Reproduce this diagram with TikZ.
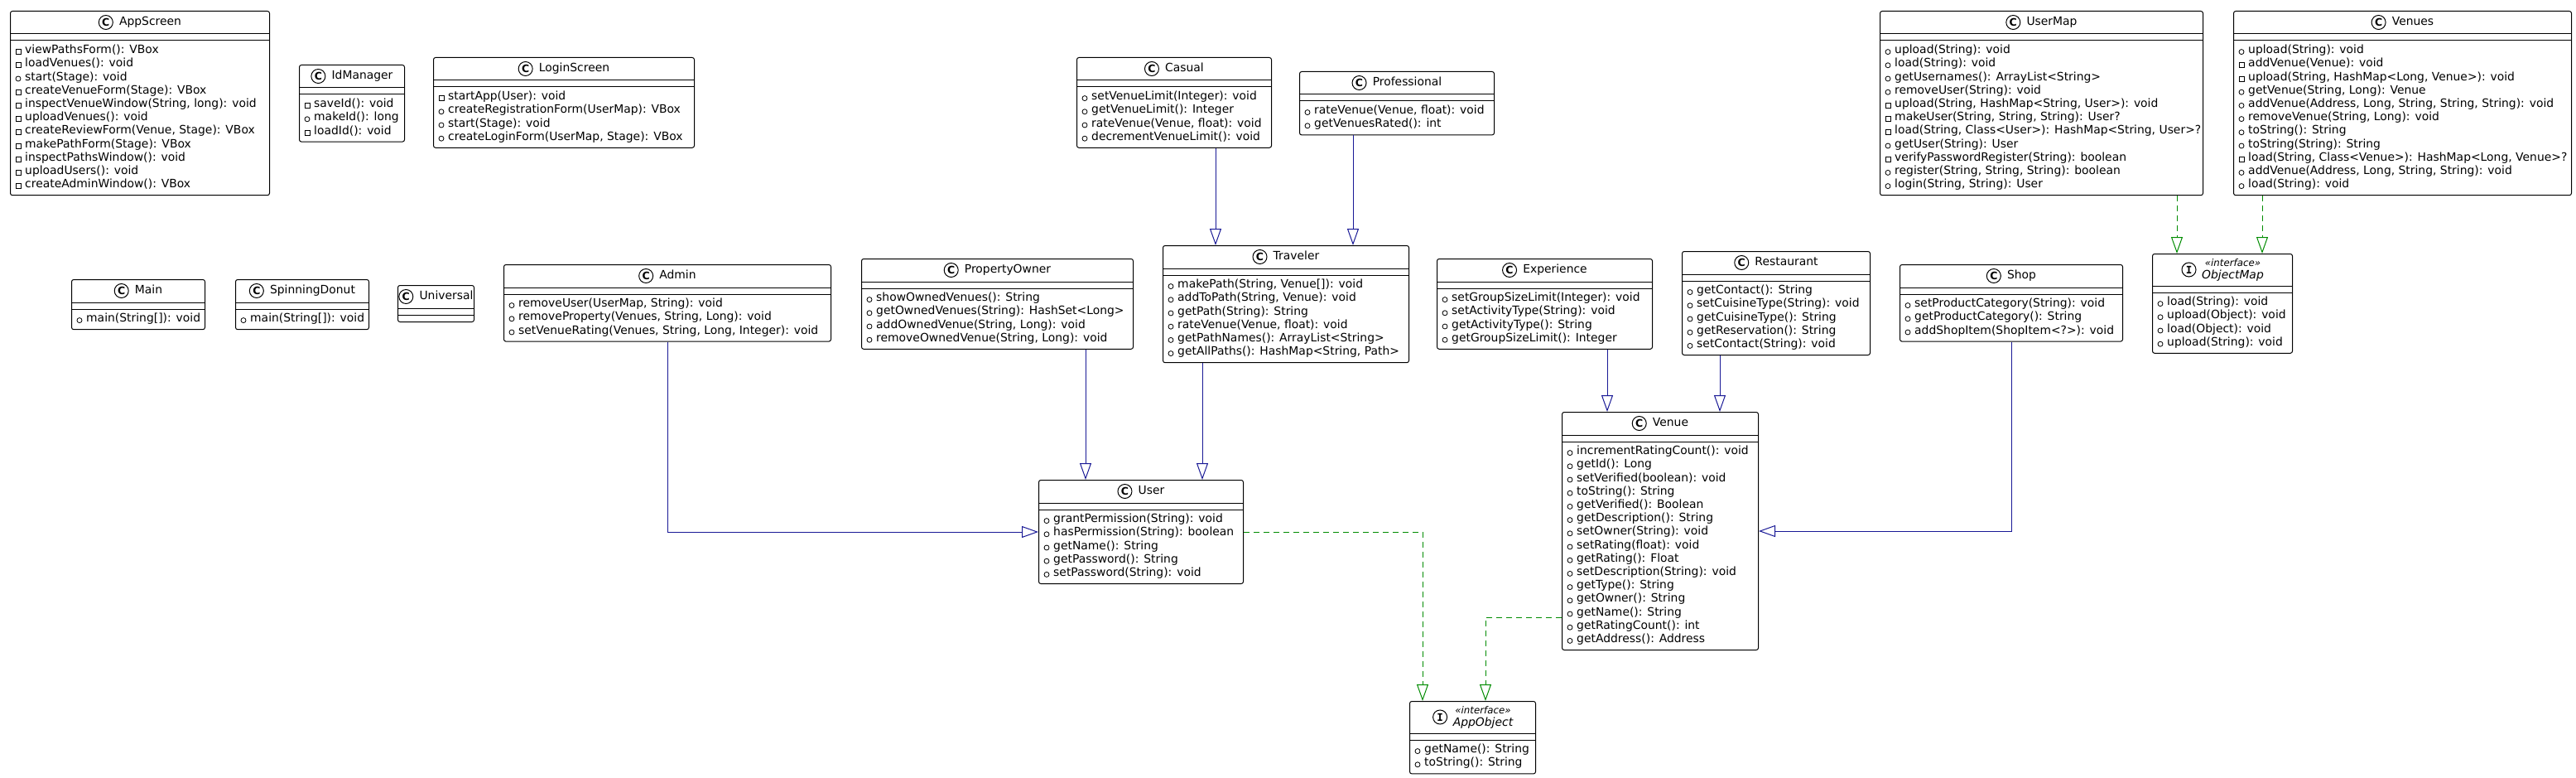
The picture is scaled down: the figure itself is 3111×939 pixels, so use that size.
\documentclass[tikz,border=0pt]{standalone}
\usepackage{fontspec}
\setmainfont{DejaVu Sans}
\newfontfamily\monofnt{DejaVu Sans Mono}
\usetikzlibrary{arrows.meta,positioning,calc}
\definecolor{inhcol}{RGB}{25,25,150}
\definecolor{implcol}{RGB}{0,140,0}
\tikzset{
  umlbox/.style={draw, line width=1pt, rounded corners=2.5pt, fill=white, inner sep=0pt, anchor=north west},
  sepline/.style={line width=1pt},
  ttl/.style={inner sep=0pt, font=\fontsize{13.9}{16}\selectfont, text height=10.3pt, text depth=3pt},
  ittl/.style={inner sep=0pt, font=\fontsize{13.9}{16}\selectfont\itshape, text height=10.3pt, text depth=3pt},
  mtxt/.style={inner sep=0pt, anchor=west, font=\fontsize{13.9}{16}\selectfont, text height=10.3pt, text depth=3pt},
  stereo/.style={inner sep=0pt, font=\fontsize{11.8}{13}\selectfont\itshape, text height=9pt, text depth=2.5pt},
  iconC/.style={circle, draw, line width=1pt, minimum size=17pt, inner sep=0pt, fill=white, font=\fontsize{12.5}{12.5}\selectfont\bfseries},
  iconI/.style={circle, draw, line width=1pt, minimum size=17pt, inner sep=0pt, fill=white, font=\monofnt\bfseries\fontsize{12.5}{12.5}\selectfont},
  viso/.style={circle, draw, line width=0.8pt, minimum size=6pt, inner sep=0pt},
  viss/.style={rectangle, draw, line width=0.8pt, minimum size=6pt, inner sep=0pt},
  inh/.style={draw=inhcol, line width=1pt, -{Triangle[open, length=20pt, width=14pt]}},
  impl/.style={draw=implcol, line width=1pt, dash pattern=on 7pt off 5pt, -{Triangle[open, length=20pt, width=14pt]}},
}
% #1 id, #2 x, #3 y, #4 width, #5 n methods, #6 header height
\newcommand\umlcls[6]{%
  \pgfmathsetmacro\bh{#6+16+16.2*#5}%
  \node[umlbox, minimum width=#4pt, minimum height=\bh pt] (#1) at (#2,#3) {};
  \draw[sepline] ([yshift=-#6pt]#1.north west) -- ([yshift=-#6pt]#1.north east);
  \draw[sepline] ([yshift=-#6pt-8pt]#1.north west) -- ([yshift=-#6pt-8pt]#1.north east);
}
\newcommand\ctitle[2]{%
  \node[ttl] (#1-t) at ([xshift=12.5pt, yshift=-14pt]#1.north) {#2};
  \node[iconC, left=7pt of #1-t] (#1-c) {C};
}
\newcommand\ititle[2]{%
  \node[ittl] (#1-t) at ([xshift=12.5pt, yshift=-27pt]#1.north) {#2};
  \node[stereo] (#1-s) at ([xshift=12.5pt, yshift=-12pt]#1.north) {«interface»};
  \node[iconI] (#1-c) at ([xshift=-15.5pt, yshift=7.5pt]#1-t.west) {I};
}
% #1 id, #2 header height, #3 list
\newcommand\mths[3]{%
  \foreach \mv/\mt [count=\mi from 0] in {#3} {
    \pgfmathsetmacro\yy{#2+20.1+16.2*\mi}
    \pgfmathsetmacro\yv{#2+21.6+16.2*\mi}
    \node[vis\mv] (#1-v\mi) at ([xshift=10pt, yshift=-\yv pt]#1.north west) {};
    \node[mtxt] (#1-m\mi) at ([xshift=18pt, yshift=-\yy pt]#1.north west) {\mt};
  }
}
\begin{document}
\begin{tikzpicture}[x=1pt, y=-1pt]
\useasboundingbox[fill=white] (0,0) rectangle (3111,939);

% AppScreen
\umlcls{AppScreen}{12}{13}{313}{11}{28}
\ctitle{AppScreen}{AppScreen}
\mths{AppScreen}{28}{s/{viewPathsForm(): VBox}, s/{loadVenues(): void}, o/{start(Stage): void}, s/{createVenueForm(Stage): VBox}, s/{inspectVenueWindow(String, long): void}, s/{uploadVenues(): void}, s/{createReviewForm(Venue, Stage): VBox}, s/{makePathForm(Stage): VBox}, s/{inspectPathsWindow(): void}, s/{uploadUsers(): void}, s/{createAdminWindow(): VBox}}

% IdManager
\umlcls{IdManager}{361}{78}{127}{3}{28}
\ctitle{IdManager}{IdManager}
\mths{IdManager}{28}{s/{saveId(): void}, o/{makeId(): long}, s/{loadId(): void}}

% LoginScreen
\umlcls{LoginScreen}{523}{69}{315}{4}{28}
\ctitle{LoginScreen}{LoginScreen}
\mths{LoginScreen}{28}{s/{startApp(User): void}, o/{createRegistrationForm(UserMap): VBox}, o/{start(Stage): void}, o/{createLoginForm(UserMap, Stage): VBox}}

% Casual
\umlcls{Casual}{1300}{69}{235}{4}{28}
\ctitle{Casual}{Casual}
\mths{Casual}{28}{o/{setVenueLimit(Integer): void}, o/{getVenueLimit(): Integer}, o/{rateVenue(Venue, float): void}, o/{decrementVenueLimit(): void}}

% Professional
\umlcls{Professional}{1569}{86}{235}{2}{28}
\ctitle{Professional}{Professional}
\mths{Professional}{28}{o/{rateVenue(Venue, float): void}, o/{getVenuesRated(): int}}

% UserMap
\umlcls{UserMap}{2270}{13}{390}{11}{28}
\ctitle{UserMap}{UserMap}
\mths{UserMap}{28}{o/{upload(String): void}, o/{load(String): void}, o/{getUsernames(): ArrayList<String>}, o/{removeUser(String): void}, s/{upload(String, HashMap<String, User>): void}, s/{makeUser(String, String, String): User?}, s/{load(String, Class<User>): HashMap<String, User>?}, o/{getUser(String): User}, s/{verifyPasswordRegister(String): boolean}, o/{register(String, String, String): boolean}, o/{login(String, String): User}}

% Venues
\umlcls{Venues}{2697}{13}{408}{11}{28}
\ctitle{Venues}{Venues}
\mths{Venues}{28}{o/{upload(String): void}, s/{addVenue(Venue): void}, s/{upload(String, HashMap<Long, Venue>): void}, o/{getVenue(String, Long): Venue}, o/{addVenue(Address, Long, String, String, String): void}, o/{removeVenue(String, Long): void}, o/{toString(): String}, o/{toString(String): String}, s/{load(String, Class<Venue>): HashMap<Long, Venue>?}, o/{addVenue(Address, Long, String, String): void}, o/{load(String): void}}

% Main
\umlcls{Main}{86}{337}{161}{1}{28}
\ctitle{Main}{Main}
\mths{Main}{28}{o/{main(String[]): void}}

% SpinningDonut
\umlcls{SpinningDonut}{284}{337}{161}{1}{28}
\ctitle{SpinningDonut}{SpinningDonut}
\mths{SpinningDonut}{28}{o/{main(String[]): void}}

% Universal
\umlcls{Universal}{480}{344}{92}{0}{28}
\ctitle{Universal}{Universal}

% Admin
\umlcls{Admin}{608}{319}{395}{3}{28}
\ctitle{Admin}{Admin}
\mths{Admin}{28}{o/{removeUser(UserMap, String): void}, o/{removeProperty(Venues, String, Long): void}, o/{setVenueRating(Venues, String, Long, Integer): void}}

% PropertyOwner
\umlcls{PropertyOwner}{1040}{312}{328}{4}{28}
\ctitle{PropertyOwner}{PropertyOwner}
\mths{PropertyOwner}{28}{o/{showOwnedVenues(): String}, o/{getOwnedVenues(String): HashSet<Long>}, o/{addOwnedVenue(String, Long): void}, o/{removeOwnedVenue(String, Long): void}}

% Traveler
\umlcls{Traveler}{1404}{296}{297}{6}{28}
\ctitle{Traveler}{Traveler}
\mths{Traveler}{28}{o/{makePath(String, Venue[]): void}, o/{addToPath(String, Venue): void}, o/{getPath(String): String}, o/{rateVenue(Venue, float): void}, o/{getPathNames(): ArrayList<String>}, o/{getAllPaths(): HashMap<String, Path>}}

% Experience
\umlcls{Experience}{1735}{312}{260}{4}{28}
\ctitle{Experience}{Experience}
\mths{Experience}{28}{o/{setGroupSizeLimit(Integer): void}, o/{setActivityType(String): void}, o/{getActivityType(): String}, o/{getGroupSizeLimit(): Integer}}

% Restaurant
\umlcls{Restaurant}{2031}{303}{227}{5}{28}
\ctitle{Restaurant}{Restaurant}
\mths{Restaurant}{28}{o/{getContact(): String}, o/{setCuisineType(String): void}, o/{getCuisineType(): String}, o/{getReservation(): String}, o/{setContact(String): void}}

% Shop
\umlcls{Shop}{2294}{319}{269}{3}{28}
\ctitle{Shop}{Shop}
\mths{Shop}{28}{o/{setProductCategory(String): void}, o/{getProductCategory(): String}, o/{addShopItem(ShopItem<?>): void}}

% ObjectMap
\umlcls{ObjectMap}{2599}{306}{169}{4}{39}
\ititle{ObjectMap}{ObjectMap}
\mths{ObjectMap}{39}{o/{load(String): void}, o/{upload(Object): void}, o/{load(Object): void}, o/{upload(String): void}}

% User
\umlcls{User}{1254}{579}{247}{5}{28}
\ctitle{User}{User}
\mths{User}{28}{o/{grantPermission(String): void}, o/{hasPermission(String): boolean}, o/{getName(): String}, o/{getPassword(): String}, o/{setPassword(String): void}}

% Venue
\umlcls{Venue}{1886}{497}{237}{15}{28}
\ctitle{Venue}{Venue}
\mths{Venue}{28}{o/{incrementRatingCount(): void}, o/{getId(): Long}, o/{setVerified(boolean): void}, o/{toString(): String}, o/{getVerified(): Boolean}, o/{getDescription(): String}, o/{setOwner(String): void}, o/{setRating(float): void}, o/{getRating(): Float}, o/{setDescription(String): void}, o/{getType(): String}, o/{getOwner(): String}, o/{getName(): String}, o/{getRatingCount(): int}, o/{getAddress(): Address}}

% AppObject
\umlcls{AppObject}{1702}{846}{152}{2}{39}
\ititle{AppObject}{AppObject}
\mths{AppObject}{39}{o/{getName(): String}, o/{toString(): String}}

% connector anchors
\coordinate (pu) at ([xshift=57pt]User.north west);
\coordinate (tu) at ([xshift=198pt]User.north west);
\coordinate (ct) at ([xshift=64pt]Traveler.north west);
\coordinate (pt) at ([xshift=230pt]Traveler.north west);
\coordinate (ev) at ([xshift=55pt]Venue.north west);
\coordinate (rv) at ([xshift=191pt]Venue.north west);
\coordinate (uo) at ([xshift=30pt]ObjectMap.north west);
\coordinate (vo) at ([xshift=133pt]ObjectMap.north west);
\coordinate (ua) at ([xshift=16pt]AppObject.north west);
\coordinate (va) at ([xshift=92pt]AppObject.north west);
\coordinate (vl) at ([yshift=-248pt]Venue.north west);

% inheritance
\draw[inh] (Admin.south) |- (User.west);
\draw[inh] (PropertyOwner.south -| pu) -- (pu);
\draw[inh] (Traveler.south -| tu) -- (tu);
\draw[inh] (Casual.south -| ct) -- (ct);
\draw[inh] (Professional.south -| pt) -- (pt);
\draw[inh] (Experience.south -| ev) -- (ev);
\draw[inh] (Restaurant.south -| rv) -- (rv);
\draw[inh] (Shop.south) |- (Venue.east);

% realization
\draw[impl] (UserMap.south -| uo) -- (uo);
\draw[impl] (Venues.south -| vo) -- (vo);
\draw[impl] (User.east) -| (ua);
\draw[impl] (vl) -| (va);
\end{tikzpicture}
\end{document}
